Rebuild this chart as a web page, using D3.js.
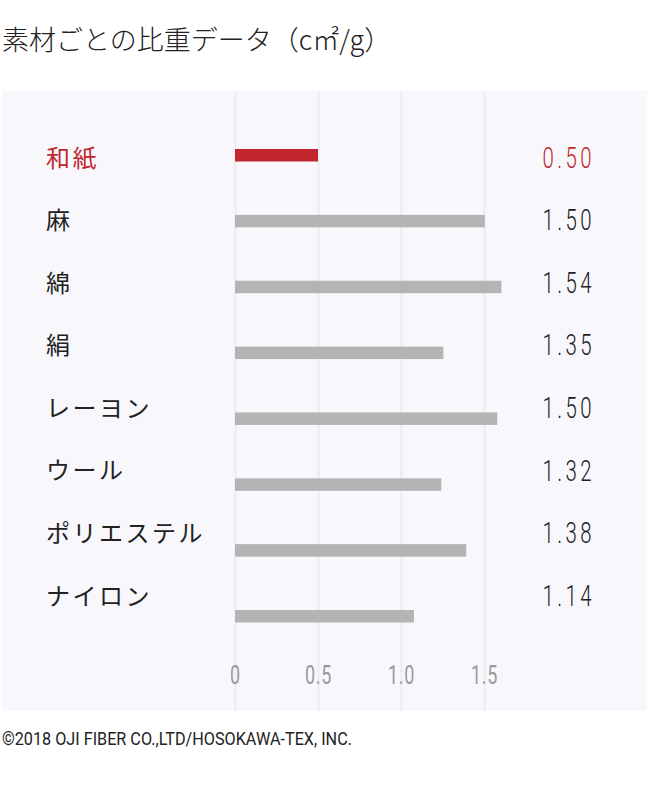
<!DOCTYPE html>
<html>
<head>
<meta charset="utf-8">
<script src="https://cdn.jsdelivr.net/npm/d3@7"></script>
<style>
  body { margin: 0; background: #fff; }
  svg { display: block; }
</style>
</head>
<body>
<div id="chart"></div>
<script>
// data
const materials = ['和紙', '麻', '綿', '絹', 'レーヨン', 'ウール', 'ポリエステル', 'ナイロン'];
// bar lengths as drawn
const barValues = [0.50, 1.505, 1.605, 1.255, 1.58, 1.243, 1.393, 1.078];
// printed figures on the right
const valueLabels = ['0.50', '1.50', '1.54', '1.35', '1.50', '1.32', '1.38', '1.14'];
const tickValues = [0, 0.5, 1.0, 1.5];
const tickLabels = ['0', '0.5', '1.0', '1.5'];
const highlight = '和紙';

const width = 647;
const height = 791;
const panel = { left: 2, top: 91, right: 647, bottom: 711 };

const red = '#c1272d';
const gray = '#b4b4b4';

const svg = d3.select('#chart')
  .append('svg')
  .attr('width', width)
  .attr('height', height);

// title
svg.append('text')
  .attr('x', 2)
  .attr('y', 50)
  .attr('font-family', '"Noto Sans CJK JP", sans-serif')
  .attr('font-weight', 300)
  .attr('font-size', 27)
  .attr('fill', '#222')
  .text('素材ごとの比重データ（c㎡/g）');

// panel background
svg.append('rect')
  .attr('x', panel.left)
  .attr('y', panel.top)
  .attr('width', panel.right - panel.left)
  .attr('height', panel.bottom - panel.top)
  .attr('fill', '#f8f8fc');

const x = d3.scaleLinear()
  .domain([0, 1.5])
  .range([235, 484]);

// bar rows and label rows drift apart slightly in the original
const yBar = d3.scaleBand()
  .domain(materials)
  .range([149, 149 + 65.86 * materials.length])
  .paddingInner(0)
  .paddingOuter(0);

const yLabel = d3.scalePoint()
  .domain(materials)
  .range([158, 596]);

// grid lines
const grid = svg.append('g')
  .attr('transform', `translate(0,${panel.top})`)
  .call(d3.axisBottom(x).tickValues(tickValues).tickSize(panel.bottom - panel.top).tickFormat(''));
grid.select('.domain').remove();
grid.selectAll('line').attr('stroke', '#ebebef').attr('stroke-width', 2);

// tick labels
const tickAxis = svg.append('g')
  .attr('transform', 'translate(0,684)')
  .call(d3.axisBottom(x).tickValues(tickValues).tickSize(0).tickPadding(0)
    .tickFormat((d, i) => tickLabels[i]));
tickAxis.select('.domain').remove();
tickAxis.selectAll('text')
  .attr('y', 0)
  .attr('dy', 0)
  .attr('transform', 'scale(0.72,1)')
  .attr('font-family', 'Roboto, sans-serif')
  .attr('font-weight', 400)
  .attr('font-size', 25)
  .attr('letter-spacing', 1)
  .attr('fill', '#999');

// bars
svg.append('g')
  .selectAll('rect')
  .data(materials)
  .join('rect')
  .attr('x', x(0))
  .attr('y', d => yBar(d))
  .attr('width', (d, i) => x(barValues[i]) - x(0))
  .attr('height', 12.5)
  .attr('fill', d => d === highlight ? red : gray);

// category labels
svg.append('g')
  .selectAll('text')
  .data(materials)
  .join('text')
  .attr('x', 46)
  .attr('y', d => yLabel(d) + 8.5)
  .attr('font-family', '"Noto Sans CJK JP", sans-serif')
  .attr('font-size', 24)
  .attr('letter-spacing', 2.5)
  .attr('fill', d => d === highlight ? red : '#222')
  .text(d => d);

// value labels
svg.append('g')
  .selectAll('text')
  .data(materials)
  .join('text')
  .attr('transform', d => `translate(595,${yLabel(d) + 9.7}) scale(0.68,1)`)
  .attr('text-anchor', 'end')
  .attr('font-family', 'Roboto, sans-serif')
  .attr('font-weight', 300)
  .attr('font-size', 30)
  .attr('letter-spacing', 5)
  .attr('fill', d => d === highlight ? red : '#222')
  .text((d, i) => valueLabels[i]);

// credit
svg.append('text')
  .attr('x', 2)
  .attr('y', 745)
  .attr('font-family', 'Roboto, sans-serif')
  .attr('font-size', 19)
  .attr('textLength', 350)
  .attr('lengthAdjust', 'spacingAndGlyphs')
  .attr('fill', '#222')
  .text('©2018 OJI FIBER CO.,LTD/HOSOKAWA-TEX, INC.');
</script>
</body>
</html>
